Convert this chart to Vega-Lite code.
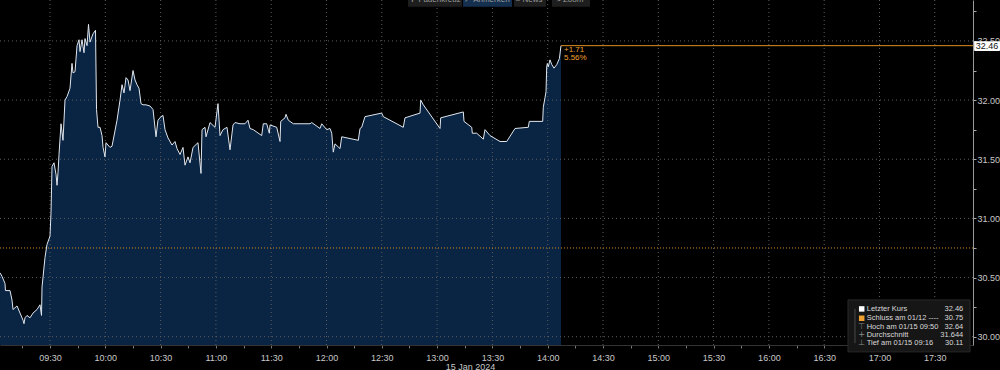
{
  "$schema": "https://vega.github.io/schema/vega-lite/v6.json",
  "width": 973,
  "height": 345,
  "autosize": "none",
  "padding": {"left": 0, "top": 0, "right": 27, "bottom": 25},
  "background": "#000000",
  "config": {"view": {"stroke": null}, "font": "Liberation Sans"},
  "datasets": {
    "main": [
      {"t": "2024-01-15T09:02:53", "p": 30.54}, {"t": "2024-01-15T09:03:58", "p": 30.51}, {"t": "2024-01-15T09:05:35", "p": 30.45},
      {"t": "2024-01-15T09:05:50", "p": 30.39}, {"t": "2024-01-15T09:08:18", "p": 30.39}, {"t": "2024-01-15T09:09:23", "p": 30.31},
      {"t": "2024-01-15T09:09:56", "p": 30.23}, {"t": "2024-01-15T09:12:06", "p": 30.26}, {"t": "2024-01-15T09:13:44", "p": 30.20},
      {"t": "2024-01-15T09:15:21", "p": 30.14}, {"t": "2024-01-15T09:15:53", "p": 30.11}, {"t": "2024-01-15T09:16:26", "p": 30.16},
      {"t": "2024-01-15T09:17:31", "p": 30.18}, {"t": "2024-01-15T09:19:09", "p": 30.16}, {"t": "2024-01-15T09:20:47", "p": 30.20},
      {"t": "2024-01-15T09:22:57", "p": 30.23}, {"t": "2024-01-15T09:24:35", "p": 30.27}, {"t": "2024-01-15T09:25:23", "p": 30.18},
      {"t": "2024-01-15T09:25:40", "p": 30.42}, {"t": "2024-01-15T09:27:17", "p": 30.67}, {"t": "2024-01-15T09:28:22", "p": 30.78},
      {"t": "2024-01-15T09:30:00", "p": 30.85}, {"t": "2024-01-15T09:30:33", "p": 31.05}, {"t": "2024-01-15T09:31:05", "p": 31.44},
      {"t": "2024-01-15T09:32:10", "p": 31.47}, {"t": "2024-01-15T09:33:16", "p": 31.37}, {"t": "2024-01-15T09:33:48", "p": 31.28},
      {"t": "2024-01-15T09:34:21", "p": 31.39}, {"t": "2024-01-15T09:34:53", "p": 31.54}, {"t": "2024-01-15T09:35:58", "p": 31.80},
      {"t": "2024-01-15T09:37:03", "p": 31.66}, {"t": "2024-01-15T09:38:08", "p": 32.00}, {"t": "2024-01-15T09:39:14", "p": 32.03},
      {"t": "2024-01-15T09:40:51", "p": 32.10}, {"t": "2024-01-15T09:41:56", "p": 32.31}, {"t": "2024-01-15T09:42:29", "p": 32.23},
      {"t": "2024-01-15T09:43:34", "p": 32.24}, {"t": "2024-01-15T09:44:39", "p": 32.46}, {"t": "2024-01-15T09:45:44", "p": 32.51},
      {"t": "2024-01-15T09:46:17", "p": 32.41}, {"t": "2024-01-15T09:47:22", "p": 32.51}, {"t": "2024-01-15T09:48:27", "p": 32.40},
      {"t": "2024-01-15T09:48:59", "p": 32.52}, {"t": "2024-01-15T09:50:05", "p": 32.46}, {"t": "2024-01-15T09:50:53", "p": 32.64},
      {"t": "2024-01-15T09:51:42", "p": 32.49}, {"t": "2024-01-15T09:53:20", "p": 32.56}, {"t": "2024-01-15T09:54:41", "p": 32.59},
      {"t": "2024-01-15T09:55:14", "p": 31.92}, {"t": "2024-01-15T09:56:02", "p": 31.77}, {"t": "2024-01-15T09:57:08", "p": 31.77},
      {"t": "2024-01-15T09:58:13", "p": 31.70}, {"t": "2024-01-15T09:58:46", "p": 31.60}, {"t": "2024-01-15T09:59:50", "p": 31.52},
      {"t": "2024-01-15T10:00:23", "p": 31.64}, {"t": "2024-01-15T10:02:33", "p": 31.60}, {"t": "2024-01-15T10:03:38", "p": 31.61},
      {"t": "2024-01-15T10:06:21", "p": 31.83}, {"t": "2024-01-15T10:07:59", "p": 32.00}, {"t": "2024-01-15T10:09:04", "p": 32.13},
      {"t": "2024-01-15T10:10:09", "p": 32.06}, {"t": "2024-01-15T10:11:14", "p": 32.19}, {"t": "2024-01-15T10:12:19", "p": 32.17},
      {"t": "2024-01-15T10:13:24", "p": 32.08}, {"t": "2024-01-15T10:15:02", "p": 32.25}, {"t": "2024-01-15T10:16:07", "p": 32.17},
      {"t": "2024-01-15T10:17:12", "p": 32.13}, {"t": "2024-01-15T10:18:17", "p": 32.10}, {"t": "2024-01-15T10:19:22", "p": 31.97},
      {"t": "2024-01-15T10:20:27", "p": 31.96}, {"t": "2024-01-15T10:22:05", "p": 31.96}, {"t": "2024-01-15T10:24:15", "p": 31.95},
      {"t": "2024-01-15T10:25:53", "p": 31.92}, {"t": "2024-01-15T10:27:30", "p": 31.69}, {"t": "2024-01-15T10:28:35", "p": 31.83},
      {"t": "2024-01-15T10:30:13", "p": 31.86}, {"t": "2024-01-15T10:31:18", "p": 31.87}, {"t": "2024-01-15T10:32:23", "p": 31.75},
      {"t": "2024-01-15T10:34:01", "p": 31.68}, {"t": "2024-01-15T10:36:11", "p": 31.62}, {"t": "2024-01-15T10:37:49", "p": 31.65},
      {"t": "2024-01-15T10:38:54", "p": 31.59}, {"t": "2024-01-15T10:40:32", "p": 31.54}, {"t": "2024-01-15T10:42:09", "p": 31.60},
      {"t": "2024-01-15T10:43:14", "p": 31.45}, {"t": "2024-01-15T10:44:52", "p": 31.52}, {"t": "2024-01-15T10:45:57", "p": 31.47},
      {"t": "2024-01-15T10:47:35", "p": 31.60}, {"t": "2024-01-15T10:50:17", "p": 31.64}, {"t": "2024-01-15T10:51:55", "p": 31.38},
      {"t": "2024-01-15T10:52:28", "p": 31.75}, {"t": "2024-01-15T10:54:05", "p": 31.77}, {"t": "2024-01-15T10:54:38", "p": 31.69},
      {"t": "2024-01-15T10:56:48", "p": 31.81}, {"t": "2024-01-15T10:59:31", "p": 31.77}, {"t": "2024-01-15T11:01:08", "p": 31.97},
      {"t": "2024-01-15T11:02:14", "p": 31.70}, {"t": "2024-01-15T11:03:51", "p": 31.75}, {"t": "2024-01-15T11:06:01", "p": 31.77},
      {"t": "2024-01-15T11:07:39", "p": 31.58}, {"t": "2024-01-15T11:09:17", "p": 31.79}, {"t": "2024-01-15T11:10:22", "p": 31.81},
      {"t": "2024-01-15T11:13:05", "p": 31.80}, {"t": "2024-01-15T11:15:47", "p": 31.80}, {"t": "2024-01-15T11:17:25", "p": 31.83},
      {"t": "2024-01-15T11:18:30", "p": 31.76}, {"t": "2024-01-15T11:20:17", "p": 31.75}, {"t": "2024-01-15T11:24:51", "p": 31.70},
      {"t": "2024-01-15T11:25:43", "p": 31.80}, {"t": "2024-01-15T11:27:34", "p": 31.80}, {"t": "2024-01-15T11:28:26", "p": 31.75},
      {"t": "2024-01-15T11:28:59", "p": 31.72}, {"t": "2024-01-15T11:29:21", "p": 31.79}, {"t": "2024-01-15T11:32:59", "p": 31.77},
      {"t": "2024-01-15T11:34:47", "p": 31.65}, {"t": "2024-01-15T11:35:10", "p": 31.82}, {"t": "2024-01-15T11:37:29", "p": 31.85},
      {"t": "2024-01-15T11:38:02", "p": 31.88}, {"t": "2024-01-15T11:39:17", "p": 31.83}, {"t": "2024-01-15T11:41:59", "p": 31.80},
      {"t": "2024-01-15T11:51:03", "p": 31.80}, {"t": "2024-01-15T11:51:59", "p": 31.81}, {"t": "2024-01-15T11:56:29", "p": 31.76},
      {"t": "2024-01-15T11:57:24", "p": 31.80}, {"t": "2024-01-15T12:00:07", "p": 31.75}, {"t": "2024-01-15T12:01:54", "p": 31.76},
      {"t": "2024-01-15T12:02:50", "p": 31.72}, {"t": "2024-01-15T12:03:41", "p": 31.56}, {"t": "2024-01-15T12:04:37", "p": 31.63},
      {"t": "2024-01-15T12:07:20", "p": 31.59}, {"t": "2024-01-15T12:08:15", "p": 31.69}, {"t": "2024-01-15T12:17:15", "p": 31.66},
      {"t": "2024-01-15T12:18:11", "p": 31.76}, {"t": "2024-01-15T12:19:06", "p": 31.77}, {"t": "2024-01-15T12:20:53", "p": 31.86},
      {"t": "2024-01-15T12:29:57", "p": 31.89}, {"t": "2024-01-15T12:30:49", "p": 31.86}, {"t": "2024-01-15T12:41:40", "p": 31.77},
      {"t": "2024-01-15T12:42:35", "p": 31.85}, {"t": "2024-01-15T12:50:44", "p": 31.89}, {"t": "2024-01-15T12:51:07", "p": 32.00},
      {"t": "2024-01-15T12:52:31", "p": 31.96}, {"t": "2024-01-15T13:01:35", "p": 31.76}, {"t": "2024-01-15T13:01:58", "p": 31.85},
      {"t": "2024-01-15T13:14:13", "p": 31.90}, {"t": "2024-01-15T13:14:36", "p": 31.82}, {"t": "2024-01-15T13:18:47", "p": 31.77},
      {"t": "2024-01-15T13:19:06", "p": 31.72}, {"t": "2024-01-15T13:21:29", "p": 31.72}, {"t": "2024-01-15T13:25:04", "p": 31.67},
      {"t": "2024-01-15T13:25:59", "p": 31.75}, {"t": "2024-01-15T13:28:42", "p": 31.70}, {"t": "2024-01-15T13:34:08", "p": 31.65},
      {"t": "2024-01-15T13:37:46", "p": 31.65}, {"t": "2024-01-15T13:42:16", "p": 31.76}, {"t": "2024-01-15T13:49:29", "p": 31.77},
      {"t": "2024-01-15T13:50:01", "p": 31.82}, {"t": "2024-01-15T13:57:17", "p": 31.82}, {"t": "2024-01-15T13:57:37", "p": 31.94},
      {"t": "2024-01-15T13:58:32", "p": 32.02}, {"t": "2024-01-15T13:59:05", "p": 32.07}, {"t": "2024-01-15T13:59:28", "p": 32.28},
      {"t": "2024-01-15T13:59:48", "p": 32.31}, {"t": "2024-01-15T14:00:19", "p": 32.28}, {"t": "2024-01-15T14:01:15", "p": 32.34},
      {"t": "2024-01-15T14:02:13", "p": 32.30}, {"t": "2024-01-15T14:03:25", "p": 32.27}, {"t": "2024-01-15T14:04:55", "p": 32.30},
      {"t": "2024-01-15T14:06:20", "p": 32.35}, {"t": "2024-01-15T14:07:13", "p": 32.46}
    ],
    "vgrid": [
      {"t": "2024-01-15T09:30:00", "p": 32.846, "p2": 29.93}, {"t": "2024-01-15T10:00:00", "p": 32.846, "p2": 29.93},
      {"t": "2024-01-15T10:30:00", "p": 32.846, "p2": 29.93}, {"t": "2024-01-15T11:00:00", "p": 32.846, "p2": 29.93},
      {"t": "2024-01-15T11:30:00", "p": 32.846, "p2": 29.93}, {"t": "2024-01-15T12:00:00", "p": 32.846, "p2": 29.93},
      {"t": "2024-01-15T12:30:00", "p": 32.846, "p2": 29.93}, {"t": "2024-01-15T13:00:00", "p": 32.846, "p2": 29.93},
      {"t": "2024-01-15T13:30:00", "p": 32.846, "p2": 29.93}, {"t": "2024-01-15T14:00:00", "p": 32.846, "p2": 29.93},
      {"t": "2024-01-15T14:30:00", "p": 32.846, "p2": 29.93}, {"t": "2024-01-15T15:00:00", "p": 32.846, "p2": 29.93},
      {"t": "2024-01-15T15:30:00", "p": 32.846, "p2": 29.93}, {"t": "2024-01-15T16:00:00", "p": 32.846, "p2": 29.93},
      {"t": "2024-01-15T16:30:00", "p": 32.846, "p2": 29.93}, {"t": "2024-01-15T17:00:00", "p": 32.846, "p2": 29.93},
      {"t": "2024-01-15T17:30:00", "p": 32.846, "p2": 29.93}
    ],
    "hgrid": [
      {"t": "2024-01-15T09:02:52", "t2": "2024-01-15T17:50:44", "p": 30.0},
      {"t": "2024-01-15T09:02:52", "t2": "2024-01-15T17:50:44", "p": 30.5},
      {"t": "2024-01-15T09:02:52", "t2": "2024-01-15T17:50:44", "p": 31.0},
      {"t": "2024-01-15T09:02:52", "t2": "2024-01-15T17:50:44", "p": 31.5},
      {"t": "2024-01-15T09:02:52", "t2": "2024-01-15T17:50:44", "p": 32.0},
      {"t": "2024-01-15T09:02:52", "t2": "2024-01-15T17:50:44", "p": 32.5}
    ],
    "prevclose": [{"t": "2024-01-15T09:02:52", "t2": "2024-01-15T17:50:44", "p": 30.75}],
    "lastline": [{"t": "2024-01-15T14:07:13", "t2": "2024-01-15T17:50:44", "p": 32.46}],
    "annot": [
      {"t": "2024-01-15T14:08:50", "p": 32.42, "txt": "+1.71"},
      {"t": "2024-01-15T14:08:50", "p": 32.355, "txt": "5.56%"}
    ],
    "toolbtn": [
      {"t": "2024-01-15T12:44:13", "t2": "2024-01-15T13:13:30", "p": 32.846, "p2": 32.79, "fill": "#1e1e1e"},
      {"t": "2024-01-15T13:14:05", "t2": "2024-01-15T13:40:38", "p": 32.846, "p2": 32.79, "fill": "#15304e"},
      {"t": "2024-01-15T13:41:43", "t2": "2024-01-15T13:59:05", "p": 32.846, "p2": 32.79, "fill": "#1e1e1e"},
      {"t": "2024-01-15T14:02:20", "t2": "2024-01-15T14:22:58", "p": 32.846, "p2": 32.79, "fill": "#1e1e1e"}
    ],
    "tooltxt": [
      {"t": "2024-01-15T12:58:52", "p": 32.846, "txt": "✛ Fadenkreuz"},
      {"t": "2024-01-15T13:27:04", "p": 32.846, "txt": "↗ Anmerken"},
      {"t": "2024-01-15T13:49:55", "p": 32.846, "txt": "≡ News"},
      {"t": "2024-01-15T14:12:06", "p": 32.846, "txt": "⌕ Zoom"}
    ],
    "legbox": [{"t": "2024-01-15T16:42:55", "t2": "2024-01-15T17:49:06", "p": 30.311, "p2": 29.872}],
    "legtree": [{"t": "2024-01-15T16:46:42", "p": 30.235, "p2": 29.945}],
    "legsq": [
      {"t": "2024-01-15T16:50:21", "p": 30.235, "c": "#ffffff"},
      {"t": "2024-01-15T16:50:21", "p": 30.156, "c": "#f0a030"}
    ],
    "legglyph": [
      {"t": "2024-01-15T16:50:21", "p": 30.085, "txt": "⊤"},
      {"t": "2024-01-15T16:50:21", "p": 30.015, "txt": "+"},
      {"t": "2024-01-15T16:50:21", "p": 29.945, "txt": "⊥"}
    ],
    "leglab": [
      {"t": "2024-01-15T16:53:04", "p": 30.235, "txt": "Letzter Kurs"},
      {"t": "2024-01-15T16:53:04", "p": 30.156, "txt": "Schluss am 01/12 ----"},
      {"t": "2024-01-15T16:53:04", "p": 30.085, "txt": "Hoch am 01/15 09:50"},
      {"t": "2024-01-15T16:53:04", "p": 30.015, "txt": "Durchschnitt"},
      {"t": "2024-01-15T16:53:04", "p": 29.945, "txt": "Tief am 01/15 09:16"}
    ],
    "legval": [
      {"t": "2024-01-15T17:45:28", "p": 30.235, "txt": "32.46"},
      {"t": "2024-01-15T17:45:28", "p": 30.156, "txt": "30.75"},
      {"t": "2024-01-15T17:45:28", "p": 30.085, "txt": "32.64"},
      {"t": "2024-01-15T17:45:28", "p": 30.015, "txt": "31.644"},
      {"t": "2024-01-15T17:45:28", "p": 29.945, "txt": "30.11"}
    ],
    "lastbox": [{"t": "2024-01-15T17:51:20", "t2": "2024-01-15T18:05:30", "p": 32.497, "p2": 32.415}],
    "lasttxt": [{"t": "2024-01-15T17:58:19", "p": 32.456, "txt": "32.46"}]
  },
  "encoding": {
    "x": {"field": "t", "type": "temporal",
      "scale": {"domain": [{"year": 2024, "month": 1, "date": 15, "hours": 9, "minutes": 2, "seconds": 52}, {"year": 2024, "month": 1, "date": 15, "hours": 17, "minutes": 50, "seconds": 44}]},
      "axis": {"title": "15 Jan 2024", "titleColor": "#c8c8c8", "titleFontSize": 9, "titleFontWeight": "normal", "titlePadding": 0, "titleX": 470,
        "values": [
          {"year": 2024, "month": 1, "date": 15, "hours": 9, "minutes": 15}, {"year": 2024, "month": 1, "date": 15, "hours": 9, "minutes": 30},
          {"year": 2024, "month": 1, "date": 15, "hours": 9, "minutes": 45}, {"year": 2024, "month": 1, "date": 15, "hours": 10, "minutes": 0},
          {"year": 2024, "month": 1, "date": 15, "hours": 10, "minutes": 15}, {"year": 2024, "month": 1, "date": 15, "hours": 10, "minutes": 30},
          {"year": 2024, "month": 1, "date": 15, "hours": 10, "minutes": 45}, {"year": 2024, "month": 1, "date": 15, "hours": 11, "minutes": 0},
          {"year": 2024, "month": 1, "date": 15, "hours": 11, "minutes": 15}, {"year": 2024, "month": 1, "date": 15, "hours": 11, "minutes": 30},
          {"year": 2024, "month": 1, "date": 15, "hours": 11, "minutes": 45}, {"year": 2024, "month": 1, "date": 15, "hours": 12, "minutes": 0},
          {"year": 2024, "month": 1, "date": 15, "hours": 12, "minutes": 15}, {"year": 2024, "month": 1, "date": 15, "hours": 12, "minutes": 30},
          {"year": 2024, "month": 1, "date": 15, "hours": 12, "minutes": 45}, {"year": 2024, "month": 1, "date": 15, "hours": 13, "minutes": 0},
          {"year": 2024, "month": 1, "date": 15, "hours": 13, "minutes": 15}, {"year": 2024, "month": 1, "date": 15, "hours": 13, "minutes": 30},
          {"year": 2024, "month": 1, "date": 15, "hours": 13, "minutes": 45}, {"year": 2024, "month": 1, "date": 15, "hours": 14, "minutes": 0},
          {"year": 2024, "month": 1, "date": 15, "hours": 14, "minutes": 15}, {"year": 2024, "month": 1, "date": 15, "hours": 14, "minutes": 30},
          {"year": 2024, "month": 1, "date": 15, "hours": 14, "minutes": 45}, {"year": 2024, "month": 1, "date": 15, "hours": 15, "minutes": 0},
          {"year": 2024, "month": 1, "date": 15, "hours": 15, "minutes": 15}, {"year": 2024, "month": 1, "date": 15, "hours": 15, "minutes": 30},
          {"year": 2024, "month": 1, "date": 15, "hours": 15, "minutes": 45}, {"year": 2024, "month": 1, "date": 15, "hours": 16, "minutes": 0},
          {"year": 2024, "month": 1, "date": 15, "hours": 16, "minutes": 15}, {"year": 2024, "month": 1, "date": 15, "hours": 16, "minutes": 30},
          {"year": 2024, "month": 1, "date": 15, "hours": 16, "minutes": 45}, {"year": 2024, "month": 1, "date": 15, "hours": 17, "minutes": 0},
          {"year": 2024, "month": 1, "date": 15, "hours": 17, "minutes": 15}, {"year": 2024, "month": 1, "date": 15, "hours": 17, "minutes": 30},
          {"year": 2024, "month": 1, "date": 15, "hours": 17, "minutes": 45}
        ],
        "format": "%H:%M",
        "labelExpr": "(substring(datum.label, 3) == '15' || substring(datum.label, 3) == '45') ? '' : datum.label",
        "labelColor": "#c8c8c8", "labelFontSize": 9, "labelPadding": 5, "labelFlush": false, "labelOverlap": false,
        "tickColor": "#777777", "tickSize": 3, "domainColor": "#333333", "grid": false}},
    "y": {"field": "p", "type": "quantitative",
      "scale": {"domain": [29.93, 32.846], "zero": false, "nice": false},
      "axis": {"orient": "right", "title": null,
        "values": [30, 30.25, 30.5, 30.75, 31, 31.25, 31.5, 31.75, 32, 32.25, 32.5, 32.75],
        "format": ".2f",
        "labelExpr": "(substring(datum.label, 3) == '25' || substring(datum.label, 3) == '75') ? '' : datum.label",
        "labelColor": "#c8c8c8", "labelFontSize": 9, "labelPadding": 1, "labelFlush": false, "labelOverlap": false,
        "tickColor": "#aaaaaa", "tickSize": 3, "domainColor": "#9a9a9a", "grid": false}}
  },
  "layer": [
    {"data": {"name": "main"}, "mark": {"type": "area", "color": "#0a2444", "clip": true}},
    {"data": {"name": "vgrid"}, "mark": {"type": "rule", "color": "#5c5c5c", "strokeDash": [1, 3], "strokeWidth": 1}, "encoding": {"y2": {"field": "p2"}}},
    {"data": {"name": "hgrid"}, "mark": {"type": "rule", "color": "#5c5c5c", "strokeDash": [1, 3], "strokeWidth": 1}, "encoding": {"x2": {"field": "t2"}}},
    {"data": {"name": "main"}, "mark": {"type": "line", "color": "#dfe6ee", "strokeWidth": 1, "clip": true}},
    {"data": {"name": "prevclose"}, "mark": {"type": "rule", "color": "#d4891c", "strokeDash": [1, 2], "strokeWidth": 1}, "encoding": {"x2": {"field": "t2"}}},
    {"data": {"name": "lastline"}, "mark": {"type": "rule", "color": "#e0901f", "strokeWidth": 1}, "encoding": {"x2": {"field": "t2"}}},
    {"data": {"name": "annot"}, "mark": {"type": "text", "color": "#f0a030", "fontSize": 8, "align": "left", "baseline": "middle"}, "encoding": {"text": {"field": "txt"}}},
    {"data": {"name": "toolbtn"}, "mark": {"type": "rect"}, "encoding": {"x2": {"field": "t2"}, "y2": {"field": "p2"}, "color": {"field": "fill", "type": "nominal", "scale": null}}},
    {"data": {"name": "tooltxt"}, "mark": {"type": "text", "color": "#9a9a9a", "fontSize": 8, "align": "center", "baseline": "middle"}, "encoding": {"text": {"field": "txt"}}},
    {"data": {"name": "legbox"}, "mark": {"type": "rect", "color": "#161616", "stroke": "#2a2a2a", "strokeWidth": 1}, "encoding": {"x2": {"field": "t2"}, "y2": {"field": "p2"}}},
    {"data": {"name": "legtree"}, "mark": {"type": "rule", "color": "#4a4a4a", "strokeWidth": 1}, "encoding": {"y2": {"field": "p2"}}},
    {"data": {"name": "legsq"}, "mark": {"type": "square", "filled": true, "size": 30, "opacity": 1}, "encoding": {"color": {"field": "c", "type": "nominal", "scale": null}}},
    {"data": {"name": "legglyph"}, "mark": {"type": "text", "color": "#8a8a8a", "fontSize": 8, "align": "center", "baseline": "middle", "font": "DejaVu Sans"}, "encoding": {"text": {"field": "txt"}}},
    {"data": {"name": "leglab"}, "mark": {"type": "text", "color": "#d9d9d9", "fontSize": 7.5, "align": "left", "baseline": "middle"}, "encoding": {"text": {"field": "txt"}}},
    {"data": {"name": "legval"}, "mark": {"type": "text", "color": "#d9d9d9", "fontSize": 7.5, "align": "right", "baseline": "middle"}, "encoding": {"text": {"field": "txt"}}},
    {"data": {"name": "lastbox"}, "mark": {"type": "rect", "color": "#ffffff", "cornerRadius": 1}, "encoding": {"x2": {"field": "t2"}, "y2": {"field": "p2"}}},
    {"data": {"name": "lasttxt"}, "mark": {"type": "text", "color": "#111111", "fontSize": 9, "align": "center", "baseline": "middle"}, "encoding": {"text": {"field": "txt"}}}
  ]
}
